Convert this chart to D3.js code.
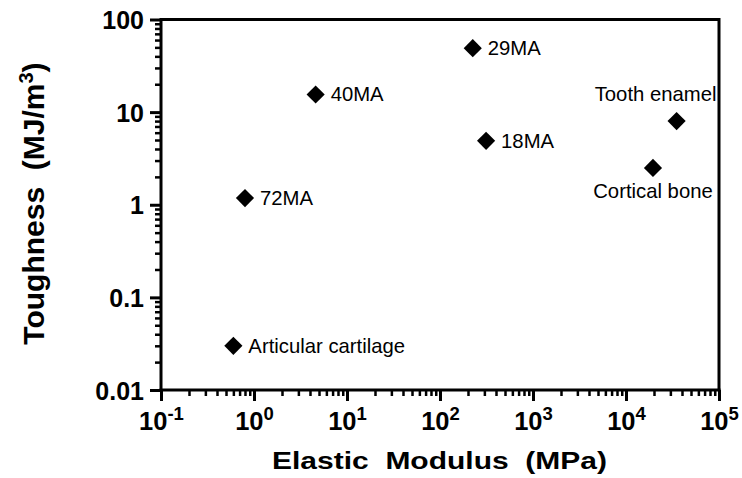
<!DOCTYPE html>
<html>
<head>
<meta charset="utf-8">
<script src="https://cdn.jsdelivr.net/npm/d3@7"></script>
<style>
  body { margin: 0; background: #fff; }
  svg { display: block; font-family: "Liberation Sans", Arial, sans-serif; }
</style>
</head>
<body>
<svg id="chart" width="742" height="478"></svg>
<script>
// materials and their measured values (MPa, MJ/m3)
const names = ["Articular cartilage", "72MA", "40MA", "29MA", "18MA", "Tooth enamel", "Cortical bone"]
const modulus = [0.6, 0.8, 4.6, 225, 313, 35000, 19500]
const toughness = [0.03, 1.18, 15.5, 49, 4.9, 8.0, 2.5]

const xMajor = [0.1, 1, 10, 100, 1000, 10000, 100000]
const xExp = ["-1", "0", "1", "2", "3", "4", "5"]
const yMajor = [0.01, 0.1, 1, 10, 100]
const yLabels = ["0.01", "0.1", "1", "10", "100"]

// where each label sits relative to its marker
const labelPlace = {
    "Tooth enamel": {dx: -21, dy: -20, anchor: "middle"},
    "Cortical bone": {dx: 0, dy: 30, anchor: "middle"}
}

var margin = {top: 19.5, right: 23, bottom: 88, left: 161},
    width = 742 - margin.left - margin.right,
    height = 478 - margin.top - margin.bottom

const svg = d3.select("#chart")
const g = svg.append("g")
    .attr("transform", "translate(" + margin.left + "," + margin.top + ")")

const x = d3.scaleLog().domain([0.1, 1e5]).range([0, width])
const y = d3.scaleLog().domain([0.01, 100]).range([height, 0])

// minor tick values: 2..9 within each decade
function minors(lo, hi) {
    const out = []
    for (let p = lo; p < hi; p++) {
        for (let k = 2; k <= 9; k++) out.push(k * Math.pow(10, p))
    }
    return out
}

const data = names.map((n, i) => ({name: n, x: modulus[i], y: toughness[i]}))

// points
const diamond = d3.symbol().type(d3.symbolSquare).size(165)
g.selectAll(".pt")
    .data(data)
    .enter().append("path")
    .attr("class", "pt")
    .attr("d", diamond)
    .attr("transform", d => "translate(" + x(d.x) + "," + y(d.y) + ") rotate(45)")
    .attr("fill", "#000")

g.selectAll(".lbl")
    .data(data)
    .enter().append("text")
    .attr("class", "lbl")
    .attr("x", d => x(d.x) + (labelPlace[d.name] ? labelPlace[d.name].dx : 15))
    .attr("y", d => y(d.y) + (labelPlace[d.name] ? labelPlace[d.name].dy : 7))
    .attr("text-anchor", d => labelPlace[d.name] ? labelPlace[d.name].anchor : "start")
    .attr("font-size", 20.3)
    .attr("fill", "#000")
    .text(d => d.name)

// frame (top and right)
g.append("line").attr("x1", 0).attr("x2", width).attr("y1", 0).attr("y2", 0)
    .attr("stroke", "#000").attr("stroke-width", 3)
g.append("line").attr("x1", width).attr("x2", width).attr("y1", -1.5).attr("y2", height)
    .attr("stroke", "#000").attr("stroke-width", 3)

// minor ticks
const gXm = g.append("g")
    .attr("transform", "translate(0," + height + ")")
    .call(d3.axisBottom(x).tickValues(minors(-1, 5)).tickSize(6).tickSizeOuter(0).tickFormat(""))
const gYm = g.append("g")
    .call(d3.axisLeft(y).tickValues(minors(-2, 2)).tickSize(6).tickSizeOuter(0).tickFormat(""))
gXm.selectAll(".tick line").attr("stroke-width", 2.5)
gYm.selectAll(".tick line").attr("stroke-width", 2.5)
gXm.select(".domain").remove()
gYm.select(".domain").remove()

// major x axis
const gX = g.append("g")
    .attr("transform", "translate(0," + height + ")")
    .call(d3.axisBottom(x).tickValues(xMajor).tickSize(11).tickSizeOuter(0).tickFormat(""))
gX.select(".domain").attr("stroke-width", 3).attr("d", "M-1.5,0H" + (width + 1.5))
gX.selectAll(".tick line").attr("stroke-width", 3)
gX.selectAll(".tick").append("text")
    .attr("y", 40)
    .attr("fill", "#000")
    .attr("text-anchor", "middle")
    .attr("font-size", 25.5)
    .attr("font-weight", "bold")
    .each(function (d, i) {
        const t = d3.select(this)
        t.append("tspan").text("10")
        t.append("tspan").attr("dy", -10).attr("font-size", 18.5).text(xExp[i])
    })

// major y axis
const gY = g.append("g")
    .call(d3.axisLeft(y).tickValues(yMajor).tickSize(11).tickSizeOuter(0)
        .tickFormat((d, i) => yLabels[i]))
gY.select(".domain").attr("stroke-width", 3).attr("d", "M0," + (height + 1.5) + "V-1.5")
gY.selectAll(".tick line").attr("stroke-width", 3)
gY.selectAll(".tick text")
    .attr("x", -17)
    .attr("dy", "0.36em")
    .attr("font-size", 25)
    .attr("font-weight", "bold")
    .attr("fill", "#000")
g.selectAll("g").attr("font-family", null)

// axis titles
svg.append("text")
    .attr("x", 439.5)
    .attr("y", 468.5)
    .attr("text-anchor", "middle")
    .attr("font-size", 24.5)
    .attr("font-weight", "bold")
    .attr("textLength", 335)
    .attr("lengthAdjust", "spacingAndGlyphs")
    .style("white-space", "pre")
    .text("Elastic  Modulus  (MPa)")

const yt = svg.append("text")
    .attr("transform", "translate(43.5,203.5) rotate(-90)")
    .attr("text-anchor", "middle")
    .attr("font-size", 30)
    .attr("font-weight", "bold")
    .style("white-space", "pre")
yt.append("tspan").text("Toughness  (MJ/m")
yt.append("tspan").attr("dy", -11).attr("font-size", 20).text("3")
yt.append("tspan").attr("dy", 11).text(")")
</script>
</body>
</html>
